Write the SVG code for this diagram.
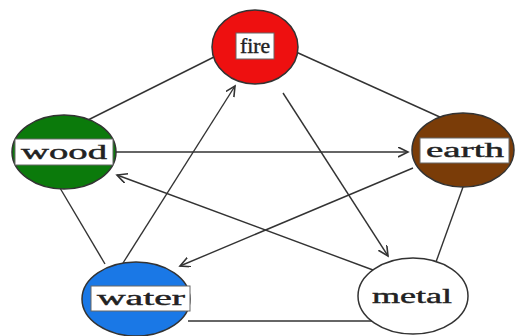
<svg xmlns="http://www.w3.org/2000/svg" width="523" height="336" viewBox="0 0 523 336">
<defs>
<marker id="arr" markerWidth="12" markerHeight="12" refX="10" refY="5" orient="auto" markerUnits="userSpaceOnUse">
<path d="M0,0 L10,5 L0,10" fill="none" stroke="#333" stroke-width="1.6"/>
</marker>
<style>
.c{stroke:#333;stroke-width:1.4;fill:none}
.a{stroke:#333;stroke-width:1.4;fill:none;marker-end:url(#arr)}
.n{stroke:#333;stroke-width:1.5}
.b{fill:#fff;stroke:#666;stroke-width:1}
.t{font-family:"Liberation Serif",serif;font-size:20px;fill:#222;stroke:#222;stroke-width:0.4;text-anchor:middle}
</style>
</defs>
<rect width="523" height="336" fill="#fff"/>
<g id="connectors">
<line class="c" x1="214" y1="57" x2="86" y2="121"/>
<line class="c" x1="296" y1="52" x2="442" y2="118"/>
<line class="c" x1="60" y1="188" x2="105" y2="264"/>
<line class="c" x1="463" y1="187" x2="436" y2="262"/>
<line class="c" x1="188" y1="321" x2="373" y2="321"/>
<line class="a" x1="116" y1="152" x2="408" y2="152"/>
<line class="a" x1="413" y1="168" x2="180" y2="266"/>
<line class="a" x1="123" y1="263" x2="235" y2="86"/>
<line class="a" x1="283" y1="93" x2="388" y2="256"/>
<line class="a" x1="373" y1="270" x2="117" y2="175"/>
</g>
<g id="fire">
<ellipse class="n" cx="255" cy="47" rx="43" ry="37" fill="#ee1010"/>
<rect class="b" x="236" y="33" width="38" height="26"/>
<text class="t" x="255" y="53" textLength="30" lengthAdjust="spacingAndGlyphs">fire</text>
</g>
<g id="wood">
<ellipse class="n" cx="64" cy="152" rx="52" ry="37" fill="#0b7a0b"/>
<rect class="b" x="15" y="139" width="98" height="26"/>
<text class="t" x="64" y="159" textLength="86" lengthAdjust="spacingAndGlyphs">wood</text>
</g>
<g id="earth">
<ellipse class="n" cx="463" cy="150" rx="51" ry="37" fill="#7a3c08"/>
<rect class="b" x="420" y="138" width="89" height="25"/>
<text class="t" x="465" y="157" textLength="78" lengthAdjust="spacingAndGlyphs">earth</text>
</g>
<g id="water">
<ellipse class="n" cx="136" cy="299" rx="54" ry="37" fill="#1a78e6"/>
<rect class="b" x="91" y="286" width="99" height="25"/>
<text class="t" x="141" y="305" textLength="88" lengthAdjust="spacingAndGlyphs">water</text>
</g>
<g id="metal">
<ellipse class="n" cx="413" cy="296" rx="55" ry="38" fill="#fff"/>
<text class="t" x="412" y="303" textLength="80" lengthAdjust="spacingAndGlyphs">metal</text>
</g>
</svg>
